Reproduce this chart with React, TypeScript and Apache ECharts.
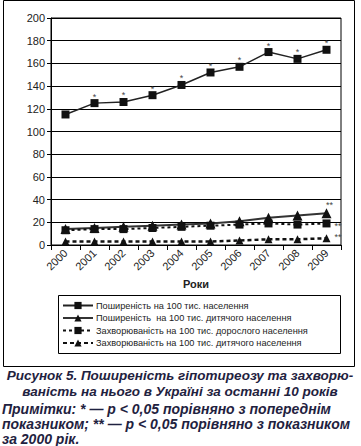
import React, { useEffect, useRef } from "react";
import * as echarts from "echarts";

const years = ["2000", "2001", "2002", "2003", "2004", "2005", "2006", "2007", "2008", "2009"];
const prevalenceAll = [115, 125, 126, 132, 141, 152, 157, 170, 164, 172];
const prevalenceChildren = [14, 15, 16, 17, 18, 19, 21, 24, 26, 28];
const incidenceAdults = [13, 14, 14, 15, 16, 17, 18, 19, 18, 19];
const incidenceChildren = [3, 3, 3, 3, 3, 3, 4, 5, 5, 6];
const marksAll = ["", "*", "*", "*", "*", "*", "*", "*", "*", "*"];
const marksPrevChildren = ["", "", "", "", "", "", "", "", "", "**"];
const marksIncAdults = ["", "", "", "", "", "", "", "", "", "**"];
const marksIncChildren = ["", "", "", "", "", "", "", "", "", "**"];
const seriesNames = [
  "Поширеність на 100 тис. населення",
  "Поширеність  на 100 тис. дитячого населення",
  "Захворюваність на 100 тис. дорослого населення",
  "Захворюваність на 100 тис. дитячого населення",
];
const yTicks = { min: 0, max: 200, interval: 20 };

const capColor = "#1f2240";

function withMarks(values: number[], marks: string[], position: any, offset: number[]) {
  return values.map((v, i) =>
    marks[i]
      ? {
          value: v,
          label: {
            show: true,
            formatter: marks[i],
            position,
            offset,
            fontSize: 9,
            color: "#444",
            fontFamily: "Liberation Sans",
          },
        }
      : v
  );
}

export default function App() {
  const ref = useRef<HTMLDivElement>(null);
  useEffect(() => {
    const chart = echarts.init(ref.current!, null, { renderer: "svg" });
    const font = "Liberation Sans";
    const cap = (text: string, x: number, y: number, size: number, align: string) => ({
      type: "text",
      x,
      y,
      style: { text, fontSize: size, fontWeight: "bold", fontStyle: "italic", fill: capColor, fontFamily: font, align, verticalAlign: "middle" },
    });
    chart.setOption({
      animation: false,
      backgroundColor: "#fff",
      grid: { left: 51, right: 20, top: 18, bottom: 201, show: true, borderColor: "#000", borderWidth: 1 },
      xAxis: {
        type: "category",
        data: years,
        boundaryGap: true,
        axisLine: { lineStyle: { color: "#000", width: 1 } },
        axisTick: { show: true, length: 5, lineStyle: { color: "#000" } },
        axisLabel: { rotate: 45, fontSize: 11, color: "#222", fontFamily: font, margin: 6 },
      },
      yAxis: {
        type: "value",
        min: yTicks.min,
        max: yTicks.max,
        interval: yTicks.interval,
        axisLine: { show: true, lineStyle: { color: "#000", width: 1 } },
        axisTick: { show: true, length: 4, lineStyle: { color: "#000" } },
        axisLabel: { fontSize: 11, color: "#222", fontFamily: font, margin: 6 },
        splitLine: { lineStyle: { color: "#000", width: 1 } },
      },
      legend: {
        orient: "vertical",
        left: 62,
        top: 300,
        padding: 0,
        itemGap: 1.5,
        itemWidth: 30,
        itemHeight: 9,
        textStyle: { fontSize: 9.2, lineHeight: 11, color: "#222", fontFamily: font, padding: [0, 0, 0, -2] },
        data: seriesNames,
      },
      series: [
        {
          name: seriesNames[0],
          type: "line",
          data: withMarks(prevalenceAll, marksAll, "top", [0, 7]),
          symbol: "rect",
          symbolSize: 8,
          itemStyle: { color: "#111" },
          lineStyle: { color: "#222", width: 1.5 },
        },
        {
          name: seriesNames[1],
          type: "line",
          data: withMarks(prevalenceChildren, marksPrevChildren, "top", [3, 6]),
          symbol: "triangle",
          symbolSize: 10,
          itemStyle: { color: "#111" },
          lineStyle: { color: "#333", width: 2 },
        },
        {
          name: seriesNames[2],
          type: "line",
          data: withMarks(incidenceAdults, marksIncAdults, "right", [-1, 3]),
          symbol: "rect",
          symbolSize: 8,
          itemStyle: { color: "#111" },
          lineStyle: { color: "#111", width: 2, type: [3, 3] },
        },
        {
          name: seriesNames[3],
          type: "line",
          data: withMarks(incidenceChildren, marksIncChildren, "right", [-1, -1]),
          symbol: "triangle",
          symbolSize: 8,
          itemStyle: { color: "#111" },
          lineStyle: { color: "#111", width: 2.5, type: [4, 3] },
        },
      ],
      graphic: [
        { type: "rect", shape: { x: 3.5, y: 0.5, width: 351, height: 366 }, style: { fill: "none", stroke: "#000", lineWidth: 1 }, silent: true },
        { type: "rect", shape: { x: 58.5, y: 295.5, width: 282, height: 58 }, style: { fill: "none", stroke: "#000", lineWidth: 1 }, silent: true },
        { type: "text", x: 196, y: 284, style: { text: "Роки", fontSize: 11, fontWeight: "bold", fill: "#222", fontFamily: font, align: "center", verticalAlign: "middle" } },
        cap("Рисунок 5. Поширеність гіпотиреозу та захворю-", 180, 375, 13.5, "center"),
        cap("ваність на нього в Україні за останні 10 років", 180, 391, 13.5, "center"),
        cap("Примітки: * — р < 0,05 порівняно з попереднім", 2, 409, 14, "left"),
        cap("показником; ** — р < 0,05 порівняно з показником", 2, 424, 14, "left"),
        cap("за 2000 рік.", 2, 439, 14, "left"),
      ],
    });
    return () => chart.dispose();
  }, []);
  return <div ref={ref} style={{ position: "fixed", left: 0, top: 0, width: 361, height: 446 }} />;
}
